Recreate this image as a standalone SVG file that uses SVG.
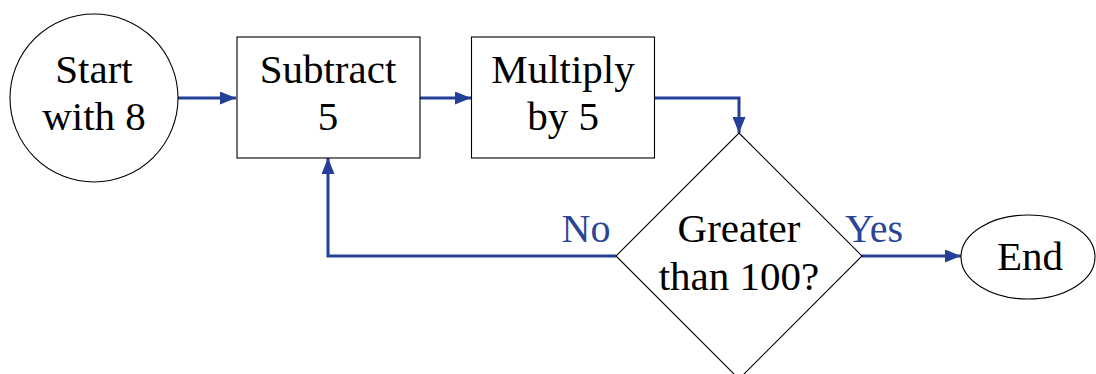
<svg xmlns="http://www.w3.org/2000/svg" width="1096" height="374" viewBox="0 0 1096 374">
<defs>
<style>
.n{fill:#fff;stroke:#000;stroke-width:1.1}
.t{font-family:"Liberation Serif","Times New Roman",serif;font-size:41px;fill:#000;text-anchor:middle}
.l{font-family:"Liberation Serif","Times New Roman",serif;font-size:40px;fill:#2b4596;text-anchor:middle}
.c{fill:none;stroke:#233f97;stroke-width:3}
</style>
<marker id="ah" markerUnits="userSpaceOnUse" markerWidth="17" markerHeight="13" refX="16" refY="6.5" orient="auto">
<path d="M0,0 L16,6.5 L0,13 Z" fill="#233f97"/>
</marker>
</defs>
<rect width="1096" height="374" fill="#fff"/>
<g id="connectors">
<path class="c" d="M178,98 H236" marker-end="url(#ah)"/>
<path class="c" d="M420,98 H471" marker-end="url(#ah)"/>
<path class="c" d="M654,98 H739 V133" marker-end="url(#ah)"/>
<path class="c" d="M616,256 H328 V158" marker-end="url(#ah)"/>
<path class="c" d="M862,256 H961" marker-end="url(#ah)"/>
<text class="l" x="586" y="242">No</text>
<text class="l" x="874" y="242">Yes</text>
</g>
<g id="start">
<circle class="n" cx="94" cy="98" r="84"/>
<text class="t" x="94" y="83">Start</text>
<text class="t" x="94" y="130">with 8</text>
</g>
<g id="subtract">
<rect class="n" x="237" y="37" width="183" height="121"/>
<text class="t" x="328" y="83">Subtract</text>
<text class="t" x="328" y="130">5</text>
</g>
<g id="multiply">
<rect class="n" x="471.5" y="37" width="183" height="121"/>
<text class="t" x="563" y="83">Multiply</text>
<text class="t" x="563" y="130">by 5</text>
</g>
<g id="decision">
<path class="n" d="M739,133 L862,256 L739,379 L616,256 Z"/>
<text class="t" x="739" y="242">Greater</text>
<text class="t" x="739" y="290">than 100?</text>
</g>
<g id="end">
<ellipse class="n" cx="1028" cy="257" rx="67" ry="42"/>
<text class="t" x="1030" y="270">End</text>
</g>
</svg>
